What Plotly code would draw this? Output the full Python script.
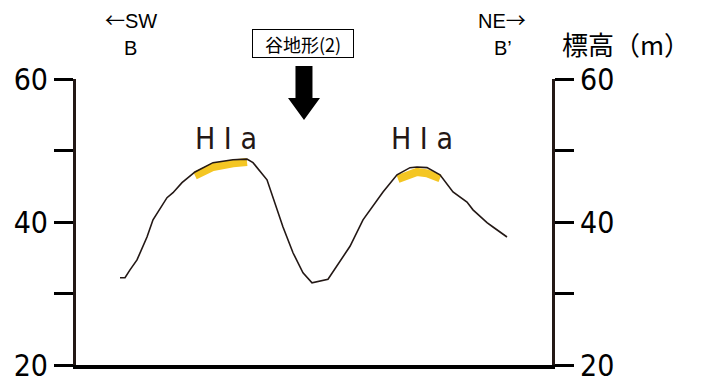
import plotly.graph_objects as go

# profile B - B' (horizontal distance in plot units, elevation in m)
distance = [44, 49, 54, 61, 71, 77, 91, 97, 106, 119, 137, 157, 171, 177, 191, 207, 217, 227,
            236, 244, 252, 274, 287, 307, 321, 334, 341, 351, 364, 377, 391, 397, 411, 417, 431]
elevation = [32.2, 32.2, 33.3, 34.7, 37.9, 40.3, 43.4, 44.1, 45.5, 47.0, 48.3, 48.7, 48.8, 48.3,
             45.9, 39.3, 35.7, 32.9, 31.5, 31.8, 32.0, 36.6, 40.3, 44.2, 46.6, 47.6, 47.7, 47.6,
             46.6, 44.2, 42.8, 41.7, 39.9, 39.3, 37.9]

# HIa terrace surfaces (yellow)
hia1_dist = [119, 137, 157, 171]
hia1_elev = [46.5, 47.7, 48.2, 48.4]
hia2_dist = [322, 334, 341, 351, 364]
hia2_elev = [46.0, 46.7, 47.0, 46.8, 46.1]

tick_vals = [20, 30, 40, 50, 60]
tick_text = ["20", "", "40", "", "60"]

INK = "#231815"
NARROW = "Liberation Sans Narrow, Arial Narrow, DejaVu Sans Condensed, sans-serif"
SANS = "Liberation Sans, Arial, sans-serif"
JP = "Noto Sans CJK JP, sans-serif"

L, R, T, B = 76, 149, 79, 17
W, H = 701, 382


def px(x):
    return (x - L) / (W - L - R)


def py(y):
    return (H - B - y) / (H - T - B)


fig = go.Figure()
fig.add_trace(go.Scatter(x=hia1_dist, y=hia1_elev, mode="lines",
                         line=dict(color="#F4C623", width=8), hoverinfo="skip"))
fig.add_trace(go.Scatter(x=hia2_dist, y=hia2_elev, mode="lines",
                         line=dict(color="#F4C623", width=8), hoverinfo="skip"))
fig.add_trace(go.Scatter(x=distance, y=elevation, mode="lines",
                         line=dict(color=INK, width=1.6)))
fig.add_trace(go.Scatter(x=[0], y=[20], yaxis="y2", mode="markers",
                         marker=dict(opacity=0), hoverinfo="skip"))

yax = dict(range=[20, 60], tickvals=tick_vals, ticktext=tick_text, showline=True,
           linewidth=3, linecolor=INK, ticks="outside", ticklen=19, tickwidth=3,
           tickcolor="black", showgrid=False, zeroline=False, ticklabeloverflow="allow",
           automargin=False, tickfont=dict(family=NARROW, size=30, color="black"))

fig.update_layout(
    width=W, height=H, showlegend=False,
    margin=dict(l=L, r=R, t=T, b=B, autoexpand=False),
    plot_bgcolor="white", paper_bgcolor="white",
    xaxis=dict(range=[0, 476], showline=True, linewidth=4, linecolor="black", automargin=False,
               showticklabels=False, ticks="", showgrid=False, zeroline=False),
    yaxis=yax,
    yaxis2=dict(yax, overlaying="y", side="right"),
)

# downward arrow pointing to the valley
cx = 304
arrow = [(cx - 8.5, 66), (cx + 8.5, 66), (cx + 8.5, 98), (cx + 16, 98), (cx, 120),
         (cx - 16, 98), (cx - 8.5, 98)]
path = "M " + " L ".join(f"{px(a):.4f},{py(b):.4f}" for a, b in arrow) + " Z"
fig.add_shape(type="path", path=path, xref="paper", yref="paper",
              fillcolor="black", line=dict(width=0))

fig.add_annotation(x=px(303), y=py(43), xref="paper", yref="paper", text="谷地形(2)",
                   xanchor="center", yanchor="middle",
                   showarrow=False, font=dict(family=JP, size=18, color="black"),
                   bordercolor="black", borderwidth=1, width=98, height=25, bgcolor="white")

arrow_span = '<span style="font-family:Noto Sans CJK JP">{}</span>'
labels = [
    (131, 19, arrow_span.format("←") + "SW", SANS, 20, "black"),
    (130, 48, "B", SANS, 20, "black"),
    (502, 19, "NE" + arrow_span.format("→"), SANS, 20, "black"),
    (503, 48, "B’", SANS, 20, "black"),
    (626, 43, "標高（m）", JP, 26, "black"),
    (226, 138, "H I a", NARROW, 30, INK),
    (422, 138, "H I a", NARROW, 30, INK),
]
for x, y, t, fam, size, col in labels:
    fig.add_annotation(x=px(x), y=py(y), xref="paper", yref="paper", text=t,
                       xanchor="center", yanchor="middle", showarrow=False,
                       font=dict(family=fam, size=size, color=col))

fig.write_html("out.html", config={"displayModeBar": False},
               post_script="document.body.style.margin='0';")
